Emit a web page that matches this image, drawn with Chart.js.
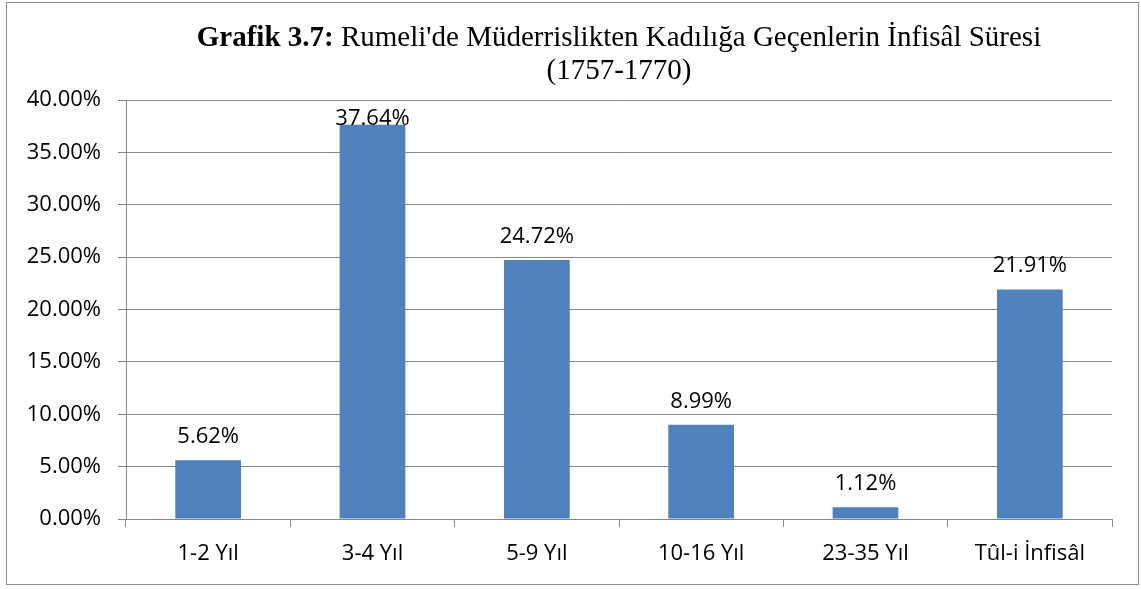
<!DOCTYPE html>
<html>
<head>
<meta charset="utf-8">
<script src="https://cdn.jsdelivr.net/npm/chart.js@4.4.1/dist/chart.umd.min.js"></script>
<style>
  html, body { margin: 0; padding: 0; background: #fff; }
  #wrap { position: relative; width: 1141px; height: 589px; overflow: hidden; }
  #frame { position: absolute; left: 6px; top: 2px; width: 1131px; height: 581px; border: 1px solid #8c8c8c; pointer-events: none; }
  #title { position: absolute; left: 0; top: 20px; width: 1238px; text-align: center; font-family: "Liberation Serif", "Times New Roman", serif; font-size: 29px; line-height: 33px; color: #000; white-space: nowrap; }
  canvas { position: absolute; left: 0; top: 0; }
</style>
</head>
<body>
<div id="wrap">
  <canvas id="c" width="1141" height="589"></canvas>
  <div id="title"><b>Grafik 3.7:</b> Rumeli'de Müderrislikten Kadılığa Geçenlerin İnfisâl Süresi<br>(1757-1770)</div>
  <div id="frame"></div>
</div>
<script>
const categories = ["1-2 Yıl", "3-4 Yıl", "5-9 Yıl", "10-16 Yıl", "23-35 Yıl", "Tûl-i İnfisâl"];
const values = [5.62, 37.64, 24.72, 8.99, 1.12, 21.91];
const yTicks = [0, 5, 10, 15, 20, 25, 30, 35, 40];

const tickFont = { family: "'Open Sans', 'Liberation Sans', sans-serif", size: 22 };
const gridColor = "#868686";

// center the title over the plot area
document.getElementById('title').style.left = (619 - 1238 / 2) + 'px';

const valueLabels = {
  id: 'valueLabels',
  afterDatasetsDraw(chart) {
    const ctx = chart.ctx;
    const meta = chart.getDatasetMeta(0);
    const top = chart.chartArea.top;
    ctx.save();
    ctx.font = tickFont.size + "px " + tickFont.family;
    ctx.fillStyle = "#000";
    ctx.textAlign = "center";
    ctx.textBaseline = "alphabetic";
    meta.data.forEach((bar, i) => {
      let y = bar.y - 17;
      if (y < top + 25) y = bar.y;
      ctx.fillText(values[i].toFixed(2) + "%", bar.x, y);
    });
    ctx.restore();
  }
};

new Chart(document.getElementById('c'), {
  type: 'bar',
  data: {
    labels: categories,
    datasets: [{
      data: values,
      backgroundColor: "#4F81BD",
      borderWidth: 0,
      barPercentage: 0.4,
      categoryPercentage: 1.0
    }]
  },
  options: {
    responsive: false,
    animation: false,
    devicePixelRatio: 1,
    layout: { padding: { left: 0, top: 100, right: 29, bottom: 0 } },
    plugins: { legend: { display: false }, tooltip: { enabled: false }, title: { display: false } },
    scales: {
      x: {
        offset: true,
        afterFit(scale) { scale.height = 70; },
        grid: { offset: true, drawOnChartArea: false, drawTicks: true, tickLength: 8, color: gridColor, lineWidth: 1 },
        border: { display: true, color: gridColor, width: 1 },
        ticks: { color: "#000", font: tickFont, padding: 14, maxRotation: 0, autoSkip: false }
      },
      y: {
        min: 0, max: 40,
        afterFit(scale) { scale.width = 126; },
        afterBuildTicks(scale) { scale.ticks = yTicks.map(v => ({ value: v })); },
        grid: { color: gridColor, lineWidth: 1, drawTicks: true, tickLength: 8 },
        border: { display: true, color: gridColor, width: 1 },
        ticks: { color: "#000", font: tickFont, padding: 17, callback: v => Number(v).toFixed(2) + "%" }
      }
    }
  },
  plugins: [valueLabels]
});
</script>
</body>
</html>
